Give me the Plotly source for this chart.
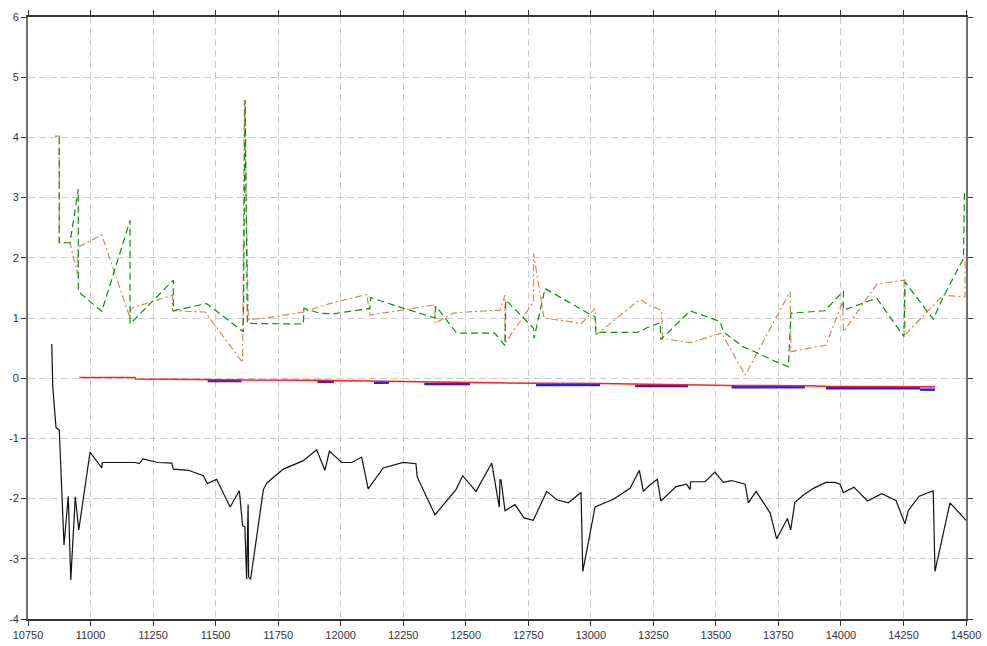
import plotly.graph_objects as go

# Black series
black_x = [10845, 10849, 10862, 10875, 10894, 10911, 10921, 10939, 10953, 10998,
           11045, 11047, 11178, 11195, 11209, 11231, 11271, 11325, 11331, 11391,
           11451, 11467, 11504, 11558, 11595, 11608, 11617, 11624, 11630, 11632,
           11640, 11691, 11705, 11745, 11771, 11851, 11904, 11937, 11955, 12004,
           12044, 12084, 12110, 12170, 12250, 12301, 12306, 12377, 12461, 12488,
           12541, 12604, 12634, 12637, 12641, 12657, 12697, 12733, 12770, 12824,
           12864, 12910, 12961, 12968, 13017, 13090, 13157, 13194, 13210, 13237,
           13266, 13280, 13341, 13383, 13397, 13399, 13457, 13496, 13530, 13563,
           13617, 13630, 13661, 13717, 13743, 13786, 13799, 13816, 13850, 13890,
           13940, 13976, 13996, 14010, 14052, 14106, 14163, 14220, 14256, 14269,
           14313, 14369, 14376, 14436, 14500]
black_y = [0.57, -0.14, -0.82, -0.86, -2.77, -1.96, -3.35, -1.97, -2.52, -1.23,
           -1.49, -1.40, -1.40, -1.42, -1.34, -1.36, -1.40, -1.41, -1.51, -1.53,
           -1.62, -1.75, -1.68, -2.14, -1.87, -2.45, -2.47, -3.34, -2.10, -3.30,
           -3.34, -1.85, -1.74, -1.60, -1.51, -1.37, -1.19, -1.53, -1.21, -1.40,
           -1.40, -1.31, -1.84, -1.49, -1.40, -1.42, -1.64, -2.27, -1.85, -1.62,
           -1.88, -1.41, -2.14, -1.69, -1.69, -2.20, -2.10, -2.32, -2.36, -1.88,
           -2.02, -2.07, -1.90, -3.21, -2.14, -2.01, -1.83, -1.53, -1.88, -1.77,
           -1.68, -2.04, -1.80, -1.76, -1.85, -1.72, -1.72, -1.56, -1.73, -1.70,
           -1.76, -2.07, -1.88, -2.24, -2.67, -2.33, -2.52, -2.06, -1.94, -1.83,
           -1.73, -1.73, -1.76, -1.90, -1.81, -2.04, -1.92, -2.03, -2.42, -2.20,
           -1.96, -1.87, -3.21, -2.07, -2.36]

# Green (dashed) series
green_x = [10875, 10875, 10918, 10951, 10951, 11045, 11158, 11158, 11331, 11331,
           11464, 11611, 11618, 11627, 11851, 11853, 11917, 11971, 12117, 12120,
           12237, 12377, 12380, 12464, 12616, 12657, 12660, 12771, 12773, 12817,
           12984, 13017, 13021, 13037, 13184, 13237, 13277, 13280, 13397, 13517,
           13530, 13610, 13677, 13737, 13790, 13800, 13936, 14010, 14010, 14143,
           14252, 14256, 14369, 14409, 14490, 14494]
green_y = [4.00, 2.25, 2.25, 3.14, 1.44, 1.11, 2.62, 0.90, 1.63, 1.12,
           1.24, 0.77, 4.62, 0.91, 0.90, 1.16, 1.08, 1.07, 1.16, 1.34,
           1.18, 1.00, 1.20, 0.75, 0.75, 0.54, 1.30, 0.83, 0.66, 1.49,
           1.09, 1.02, 0.75, 0.76, 0.76, 0.86, 0.92, 0.64, 1.12, 0.94,
           0.77, 0.52, 0.40, 0.28, 0.19, 1.08, 1.12, 1.45, 1.13, 1.33,
           0.69, 1.60, 0.98, 1.35, 1.99, 3.14]

# Orange (dash-dot) series
orange_x = [10858, 10875, 10875, 10918, 10947, 10951, 11045, 11158, 11161, 11328,
            11328, 11458, 11608, 11615, 11631, 11704, 11851, 11957, 12104, 12117,
            12244, 12377, 12377, 12450, 12504, 12637, 12657, 12657, 12771, 12771,
            12813, 12964, 13017, 13021, 13197, 13237, 13283, 13287, 13397, 13523,
            13617, 13797, 13800, 13940, 14007, 14010, 14143, 14256, 14256, 14409,
            14496, 14496]
orange_y = [4.02, 4.02, 2.25, 2.25, 1.74, 2.18, 2.38, 1.00, 1.16, 1.38,
            1.12, 1.10, 0.26, 4.62, 0.97, 1.00, 1.10, 1.24, 1.39, 1.05,
            1.13, 1.22, 0.91, 1.08, 1.10, 1.13, 1.38, 0.58, 1.27, 2.07,
            1.00, 0.91, 1.16, 0.72, 1.31, 1.20, 1.13, 0.66, 0.59, 0.75,
            0.05, 1.44, 0.44, 0.55, 1.27, 0.77, 1.56, 1.63, 0.72, 1.38,
            1.35, 2.00]

# Red baseline series
red_x = [10955, 11178, 11180, 11468, 11604, 11607, 11907, 11973, 12133, 12193,
         12334, 12517, 12781, 13037, 13177, 13389, 13563, 13856, 13940, 14316, 14376]
red_y = [0.01, 0.01, -0.015, -0.02, -0.02, -0.03, -0.035, -0.04, -0.05, -0.05,
         -0.065, -0.07, -0.085, -0.09, -0.10, -0.105, -0.12, -0.125, -0.135, -0.14, -0.14]

# Blue highlighted spans (start, end, level)
blue_start = [11468, 11907, 12133, 12334, 12781, 13177, 13563, 13940, 14316]
blue_end = [11604, 11973, 12193, 12517, 13037, 13389, 13856, 14316, 14376]
blue_level = [-0.045, -0.06, -0.075, -0.095, -0.115, -0.13, -0.15, -0.165, -0.19]

x_ticks = [10750, 11000, 11250, 11500, 11750, 12000, 12250, 12500, 12750,
           13000, 13250, 13500, 13750, 14000, 14250, 14500]
y_ticks = [-4, -3, -2, -1, 0, 1, 2, 3, 4, 5, 6]

blue_x, blue_y = [], []
for s, e, v in zip(blue_start, blue_end, blue_level):
    blue_x += [s, e, None]
    blue_y += [v, v, None]

fig = go.Figure()
fig.add_trace(go.Scatter(x=blue_x, y=blue_y, mode="lines",
                         line=dict(color="#2020f0", width=2.5), connectgaps=False))
fig.add_trace(go.Scatter(x=red_x, y=red_y, mode="lines",
                         line=dict(color="#ff2020", width=1.5)))
fig.add_trace(go.Scatter(x=orange_x, y=orange_y, mode="lines",
                         line=dict(color="#d08a5a", width=1.2, dash="7px,3px,2px,3px")))
fig.add_trace(go.Scatter(x=green_x, y=green_y, mode="lines",
                         line=dict(color="#128a12", width=1.2, dash="7px,4px")))
fig.add_trace(go.Scatter(x=black_x, y=black_y, mode="lines",
                         line=dict(color="#111111", width=1.2)))

tick_font = dict(family="Liberation Sans, Arial, sans-serif", size=11, color="#333340")
grid = dict(showgrid=True, gridcolor="#cccccc", gridwidth=1, griddash="7px,4px",
            zeroline=False, ticks="outside", ticklen=5, tickcolor="#333333",
            tickfont=tick_font, automargin=False)

fig.update_layout(
    width=987, height=646,
    margin=dict(l=28, r=21, t=17, b=27),
    paper_bgcolor="white", plot_bgcolor="white",
    showlegend=False,
    xaxis=dict(range=[10750, 14500], tickvals=x_ticks, ticktext=[str(v) for v in x_ticks],
               showline=True, linecolor="#333333", linewidth=1.5, mirror="ticks", **grid),
    yaxis=dict(range=[-4, 6], tickvals=y_ticks, ticktext=[str(v) for v in y_ticks],
               showline=True, linecolor="#707070", linewidth=2, mirror="ticks", **grid),
    yaxis2=dict(range=[-4, 6], tickvals=y_ticks, ticktext=[str(v) for v in y_ticks],
                overlaying="y", side="right", anchor="x", showgrid=False, zeroline=False,
                ticks="outside", ticklen=5, tickcolor="#333333", tickfont=tick_font,
                showline=False, automargin=False),
)

fig.write_html("out.html")
